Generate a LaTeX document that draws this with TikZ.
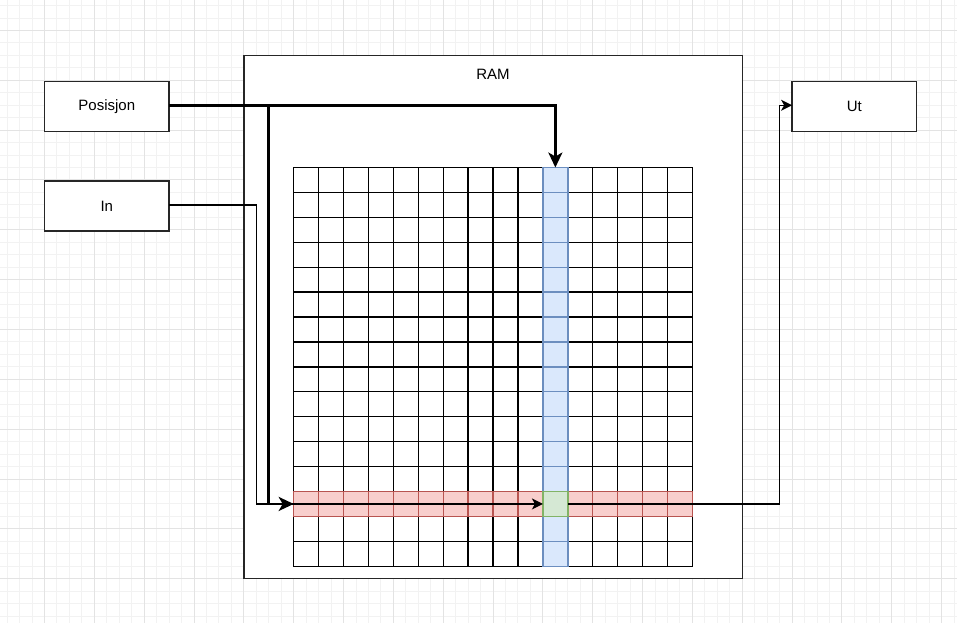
\documentclass[tikz,border=0pt]{standalone}
\usepackage{fontspec}
\setmainfont{Liberation Sans}
\usetikzlibrary{arrows.meta}

\definecolor{blaafyll}{HTML}{DAE8FC}
\definecolor{blaastrek}{HTML}{6C8EBF}
\definecolor{raudfyll}{HTML}{F8CECC}
\definecolor{raudstrek}{HTML}{B85450}
\definecolor{gronfyll}{HTML}{D5E8D4}
\definecolor{gronstrek}{HTML}{82B366}

\begin{document}
\begin{tikzpicture}[x=12.46pt,y=-12.46pt,
	boks/.style={draw=black!85,fill=white,line width=1.5pt,inner sep=0pt,outer sep=0pt,
		minimum width=124.6pt,minimum height=49.84pt,font=\fontsize{15}{18}\selectfont},
	celle/.style={draw=black,fill=white,line width=1.35pt,minimum size=24.92pt,inner sep=0pt,outer sep=0pt},
	kolonne/.style={celle,draw=blaastrek,fill=blaafyll},
	rad/.style={celle,draw=raudstrek,fill=raudfyll},
	valgt/.style={celle,draw=gronstrek,fill=gronfyll},
	smaa/.style={draw=black!5,line width=1pt},
	store/.style={draw=black!11,line width=1pt},
	tykk/.style={line width=2.6pt,-{Stealth[length=15pt,width=14pt,inset=4pt]}},
	tynn/.style={line width=1.2pt,-{Stealth[length=11pt,width=11pt,inset=3pt]}}]

	% Bakgrunn
	\useasboundingbox (-0.5714,-0.4446) rectangle (76.2343,49.5557);
	\fill[white] (-0.5714,-0.4446) rectangle (76.2343,49.5557);
	\foreach \x in {0,...,76} \draw[smaa] (\x,-0.4446) -- (\x,49.5557);
	\foreach \y in {0,...,49} \draw[smaa] (-0.5714,\y) -- (76.2343,\y);
	\foreach \x in {3,7,...,75} \draw[store] (\x,-0.4446) -- (\x,49.5557);
	\foreach \y in {2,6,...,46} \draw[store] (-0.5714,\y) -- (76.2343,\y);

	% RAM
	\node[boks,minimum width=498.4pt,minimum height=523.3pt] (ram) at (39,25) {};
	\node[font=\fontsize{15}{18}\selectfont] (ramtekst) at (39,5.55) {RAM};

	\node[boks] (posisjon) at (8,8.1) {Posisjon};
	\node[boks] (inn) at (8,16.1) {In};
	\node[boks] (ut) at (68,8.1) {Ut};

	% Celler
	\foreach \i in {0,...,15}
		\foreach \j in {0,...,15}
			\node[celle] (c-\i-\j) at ({24+2*\i},{14+2*\j}) {};
	\foreach \j in {0,...,15} \node[kolonne] (c-10-\j) at (44,{14+2*\j}) {};
	\foreach \i in {0,...,15} \node[rad] (c-\i-13) at ({24+2*\i},40) {};
	\node[valgt] (c-10-13) at (44,40) {};

	% Linjer
	\coordinate (grein) at (21,8);
	\coordinate (innsving) at (20,16);
	\coordinate (utsving) at (62,40);

	\draw[tykk] (posisjon.east |- grein) -| (c-10-0.north);
	\draw[tykk] (grein) |- (c-0-13.west);
	\draw[tynn] (inn.east |- innsving) -- (innsving) |- (c-10-13.west);
	\draw[tynn] (c-10-13.east) -- (utsving) |- (ut.west |- grein);

\end{tikzpicture}
\end{document}
